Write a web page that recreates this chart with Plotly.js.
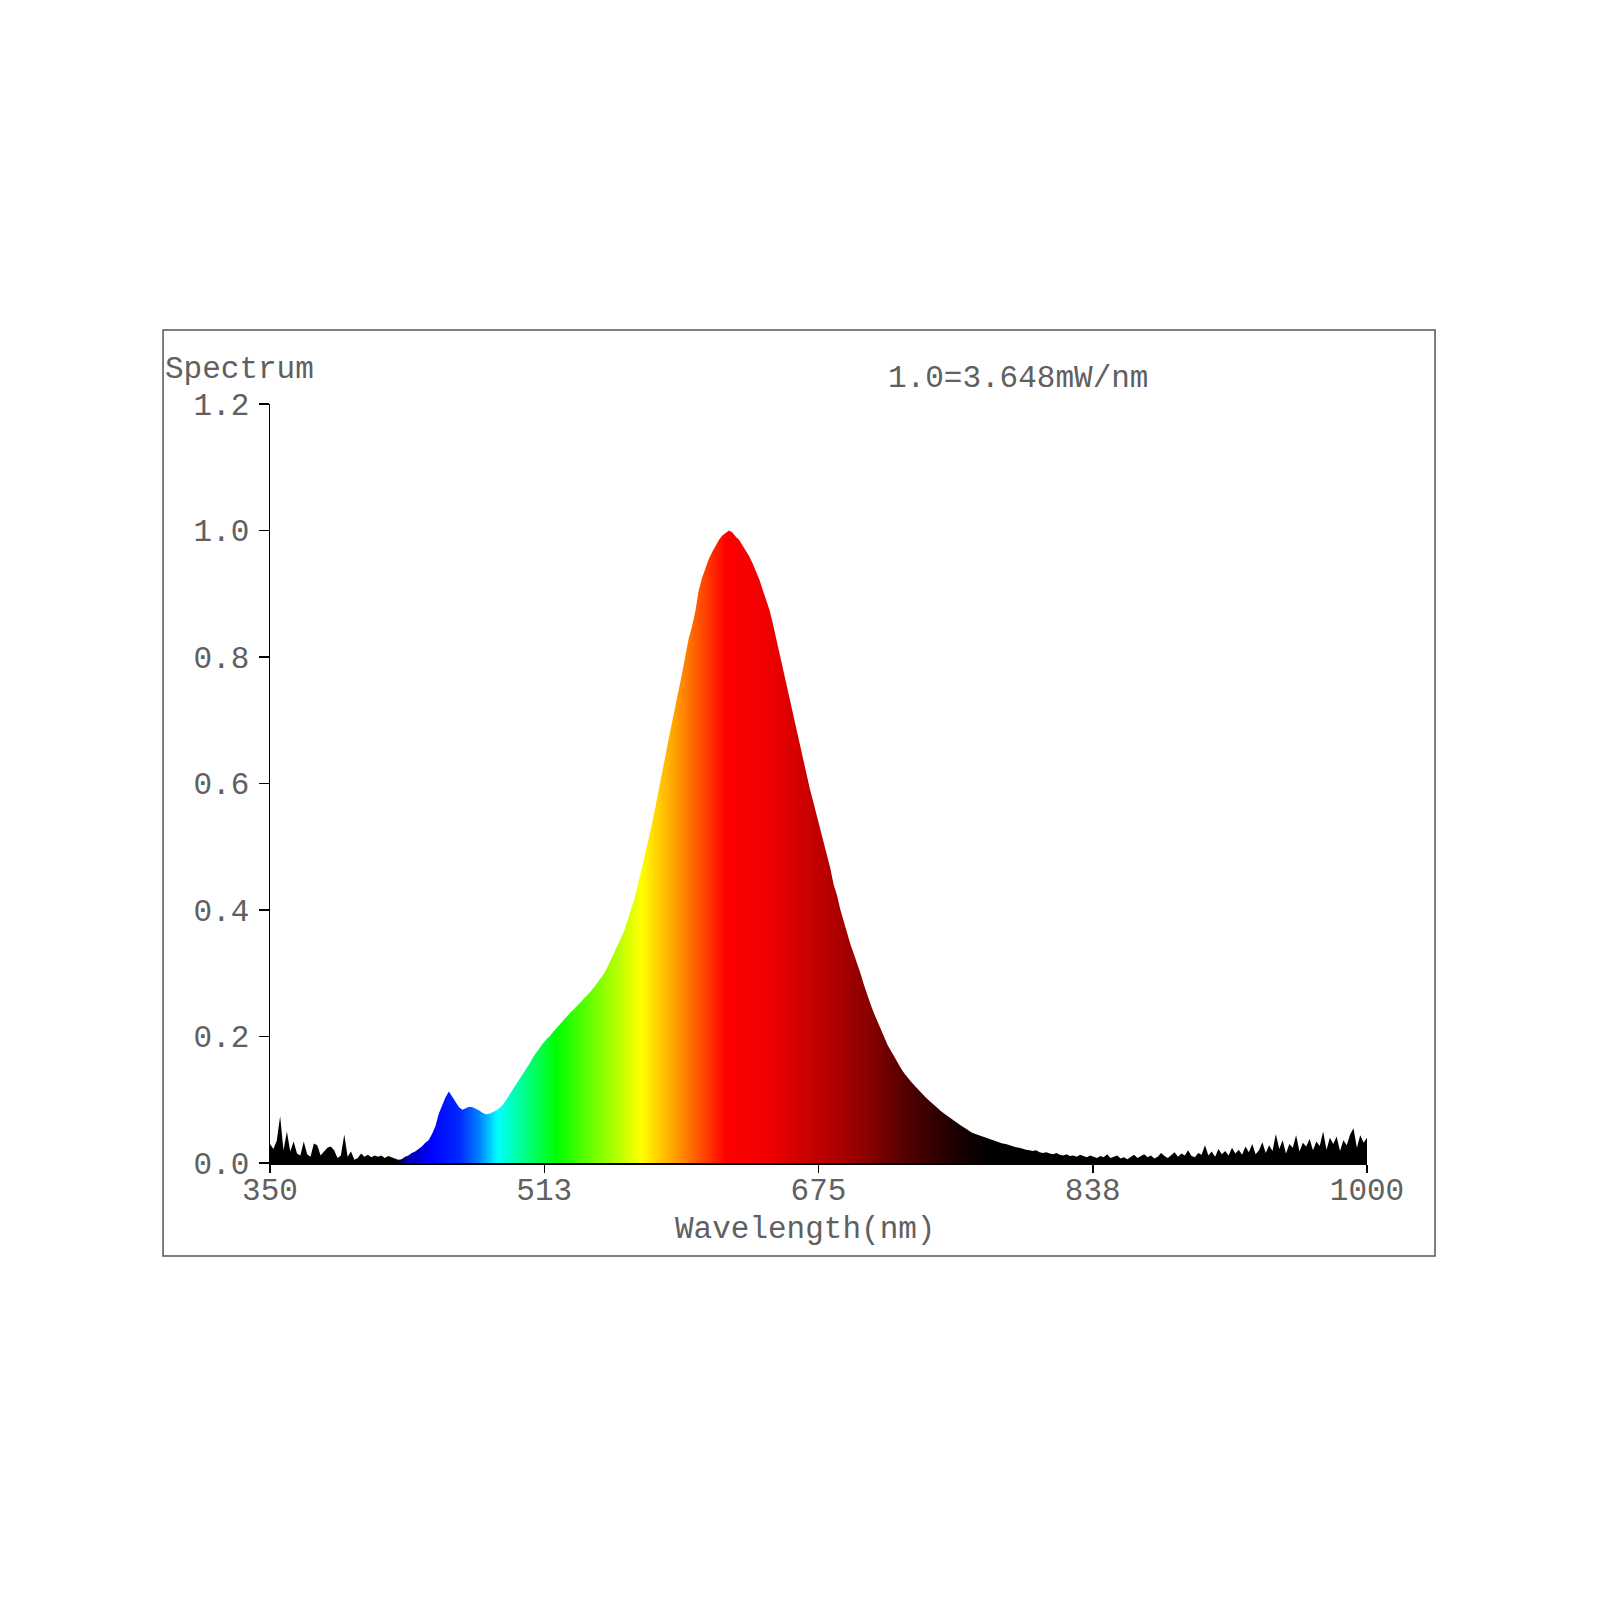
<!DOCTYPE html>
<html>
<head>
<meta charset="utf-8">
<script src="https://cdn.plot.ly/plotly-3.0.1.min.js"></script>
<style>
  html, body { margin: 0; padding: 0; background: #fff; }
  #graph { width: 1600px; height: 1600px; }
</style>
</head>
<body>
<div id="graph"></div>
<script>
// sampling grid of the spectrometer (nm)
var wlStart = 350
var wlStep = 2

// relative intensity, one value per 2 nm from 350 to 1000 (10 per row = 20 nm)
var intensity = [
    0.030, 0.022, 0.035, 0.074, 0.020, 0.050, 0.018, 0.034, 0.015, 0.012, // 350
    0.034, 0.014, 0.010, 0.031, 0.028, 0.012, 0.018, 0.024, 0.026, 0.020, // 370
    0.008, 0.012, 0.045, 0.010, 0.018, 0.005, 0.008, 0.015, 0.010, 0.013, // 390
    0.009, 0.012, 0.010, 0.012, 0.008, 0.011, 0.009, 0.007, 0.005, 0.006, // 410
    0.010, 0.012, 0.016, 0.018, 0.022, 0.026, 0.032, 0.036, 0.046, 0.058, // 430
    0.078, 0.092, 0.104, 0.113, 0.104, 0.095, 0.088, 0.084, 0.086, 0.089, // 450
    0.088, 0.086, 0.083, 0.079, 0.077, 0.078, 0.080, 0.083, 0.087, 0.092, // 470
    0.100, 0.108, 0.116, 0.124, 0.134, 0.140, 0.148, 0.158, 0.168, 0.176, // 490
    0.184, 0.190, 0.196, 0.201, 0.208, 0.214, 0.221, 0.227, 0.232, 0.238, // 510
    0.243, 0.248, 0.254, 0.260, 0.265, 0.271, 0.278, 0.285, 0.292, 0.300, // 530
    0.310, 0.321, 0.332, 0.344, 0.356, 0.368, 0.384, 0.401, 0.418, 0.440, // 550
    0.462, 0.484, 0.508, 0.532, 0.558, 0.584, 0.612, 0.640, 0.668, 0.693, // 570
    0.720, 0.745, 0.772, 0.800, 0.828, 0.848, 0.872, 0.905, 0.925, 0.940, // 590
    0.955, 0.966, 0.976, 0.985, 0.992, 0.996, 1.000, 0.997, 0.990, 0.985, // 610
    0.977, 0.968, 0.959, 0.948, 0.936, 0.922, 0.906, 0.890, 0.874, 0.852, // 630
    0.828, 0.802, 0.779, 0.755, 0.732, 0.708, 0.683, 0.658, 0.635, 0.612, // 650
    0.590, 0.570, 0.550, 0.530, 0.510, 0.489, 0.466, 0.440, 0.423, 0.400, // 670
    0.381, 0.360, 0.345, 0.330, 0.316, 0.299, 0.281, 0.264, 0.250, 0.236, // 690
    0.223, 0.210, 0.198, 0.186, 0.177, 0.167, 0.157, 0.149, 0.141, 0.134, // 710
    0.128, 0.122, 0.116, 0.110, 0.105, 0.100, 0.095, 0.091, 0.086, 0.081, // 730
    0.077, 0.073, 0.069, 0.065, 0.062, 0.058, 0.055, 0.051, 0.048, 0.046, // 750
    0.044, 0.042, 0.040, 0.038, 0.037, 0.035, 0.033, 0.031, 0.030, 0.028, // 770
    0.027, 0.025, 0.024, 0.022, 0.021, 0.020, 0.019, 0.020, 0.017, 0.016, // 790
    0.017, 0.015, 0.014, 0.016, 0.013, 0.012, 0.014, 0.011, 0.012, 0.010, // 810
    0.013, 0.011, 0.009, 0.012, 0.010, 0.008, 0.011, 0.009, 0.014, 0.008, // 830
    0.010, 0.012, 0.007, 0.009, 0.006, 0.010, 0.013, 0.008, 0.011, 0.014, // 850
    0.009, 0.012, 0.007, 0.010, 0.016, 0.011, 0.008, 0.013, 0.017, 0.010, // 870
    0.015, 0.012, 0.020, 0.011, 0.009, 0.016, 0.013, 0.028, 0.012, 0.018, // 890
    0.010, 0.022, 0.014, 0.019, 0.012, 0.024, 0.015, 0.021, 0.013, 0.026, // 910
    0.017, 0.030, 0.014, 0.020, 0.033, 0.016, 0.028, 0.019, 0.046, 0.022, // 930
    0.036, 0.015, 0.030, 0.024, 0.044, 0.018, 0.032, 0.026, 0.038, 0.020, // 950
    0.034, 0.027, 0.050, 0.021, 0.040, 0.030, 0.042, 0.019, 0.036, 0.028, // 970
    0.045, 0.055, 0.024, 0.044, 0.032, 0.040                              // 990
]

var xTickVals = [350, 512.5, 675, 837.5, 1000]
var xTickText = ["350", "513", "675", "838", "1000"]
var yTickVals = [0, 0.2, 0.4, 0.6, 0.8, 1.0, 1.2]
var yTickText = ["0.0", "0.2", "0.4", "0.6", "0.8", "1.0", "1.2"]

var wavelengths = []
for (var i = 0; i < intensity.length; i++) {
    wavelengths.push(wlStart + i * wlStep)
}

// visible spectrum colours laid along the wavelength axis (350..1000)
function pos(nm) { return (nm - 350) / 650 }
var spectrumScale = [
    [pos(350), '#000000'],
    [pos(424), '#000000'],
    [pos(432), '#0000b0'],
    [pos(445), '#0000ff'],
    [pos(462), '#0028ff'],
    [pos(474), '#0080ff'],
    [pos(485), '#00ffff'],
    [pos(500), '#00ff90'],
    [pos(520), '#00ff00'],
    [pos(545), '#80ff00'],
    [pos(570), '#ffff00'],
    [pos(590), '#ffa000'],
    [pos(605), '#ff5000'],
    [pos(620), '#ff0000'],
    [pos(645), '#f00000'],
    [pos(680), '#b80000'],
    [pos(705), '#880000'],
    [pos(730), '#4c0000'],
    [pos(760), '#160000'],
    [pos(778), '#000000'],
    [pos(1000), '#000000']
]

var font = 'Liberation Mono, Courier New, monospace'
var textColor = '#606060'

var plot_data = [{
    type: 'scatter',
    x: wavelengths,
    y: intensity,
    mode: 'lines',
    line: { width: 0, color: '#000000' },
    fill: 'tozeroy',
    fillgradient: {
        type: 'horizontal',
        start: 350,
        stop: 1000,
        colorscale: spectrumScale
    },
    hoverinfo: 'skip',
    showlegend: false
}]

var layout = {
    width: 1600,
    height: 1600,
    paper_bgcolor: '#ffffff',
    plot_bgcolor: '#ffffff',
    showlegend: false,
    margin: { l: 270, r: 233, t: 404, b: 437, pad: 0 },
    font: { family: font, size: 31, color: textColor },
    xaxis: {
        range: [350, 1000],
        tickmode: 'array',
        tickvals: xTickVals,
        ticktext: xTickText,
        ticks: 'outside',
        ticklen: 8,
        tickcolor: '#000000',
        tickwidth: 1.5,
        showline: true,
        linecolor: '#000000',
        linewidth: 1.5,
        showgrid: false,
        zeroline: false,
        ticklabelstandoff: -10,
        tickfont: { family: font, size: 31, color: textColor }
    },
    yaxis: {
        range: [0, 1.2],
        tickmode: 'array',
        tickvals: yTickVals,
        ticktext: yTickText,
        ticks: 'outside',
        ticklen: 10,
        tickcolor: '#000000',
        tickwidth: 1.5,
        showline: true,
        linecolor: '#000000',
        linewidth: 1.5,
        showgrid: false,
        zeroline: false,
        ticklabelstandoff: 3,
        tickfont: { family: font, size: 31, color: textColor }
    },
    shapes: [{
        type: 'rect', xref: 'paper', yref: 'paper',
        x0: -0.0975, x1: 1.062, y0: -0.1225, y1: 1.0975,
        line: { color: '#555555', width: 1.5 },
        fillcolor: 'rgba(0,0,0,0)'
    }],
    annotations: [
        {
            text: 'Spectrum', xref: 'paper', yref: 'paper',
            x: -0.0975, y: 1.046, xanchor: 'left', yanchor: 'middle',
            showarrow: false, font: { family: font, size: 31, color: textColor }
        },
        {
            text: '1.0=3.648mW/nm', xref: 'paper', yref: 'paper',
            x: 0.5615, y: 1.034, xanchor: 'left', yanchor: 'middle',
            showarrow: false, font: { family: font, size: 31, color: textColor }
        },
        {
            text: 'Wavelength(nm)', xref: 'paper', yref: 'paper',
            x: 0.488, y: -0.087, xanchor: 'center', yanchor: 'middle',
            showarrow: false, font: { family: font, size: 31, color: textColor }
        }
    ]
}

Plotly.newPlot('graph', plot_data, layout, { staticPlot: true, displayModeBar: false })
</script>
</body>
</html>
